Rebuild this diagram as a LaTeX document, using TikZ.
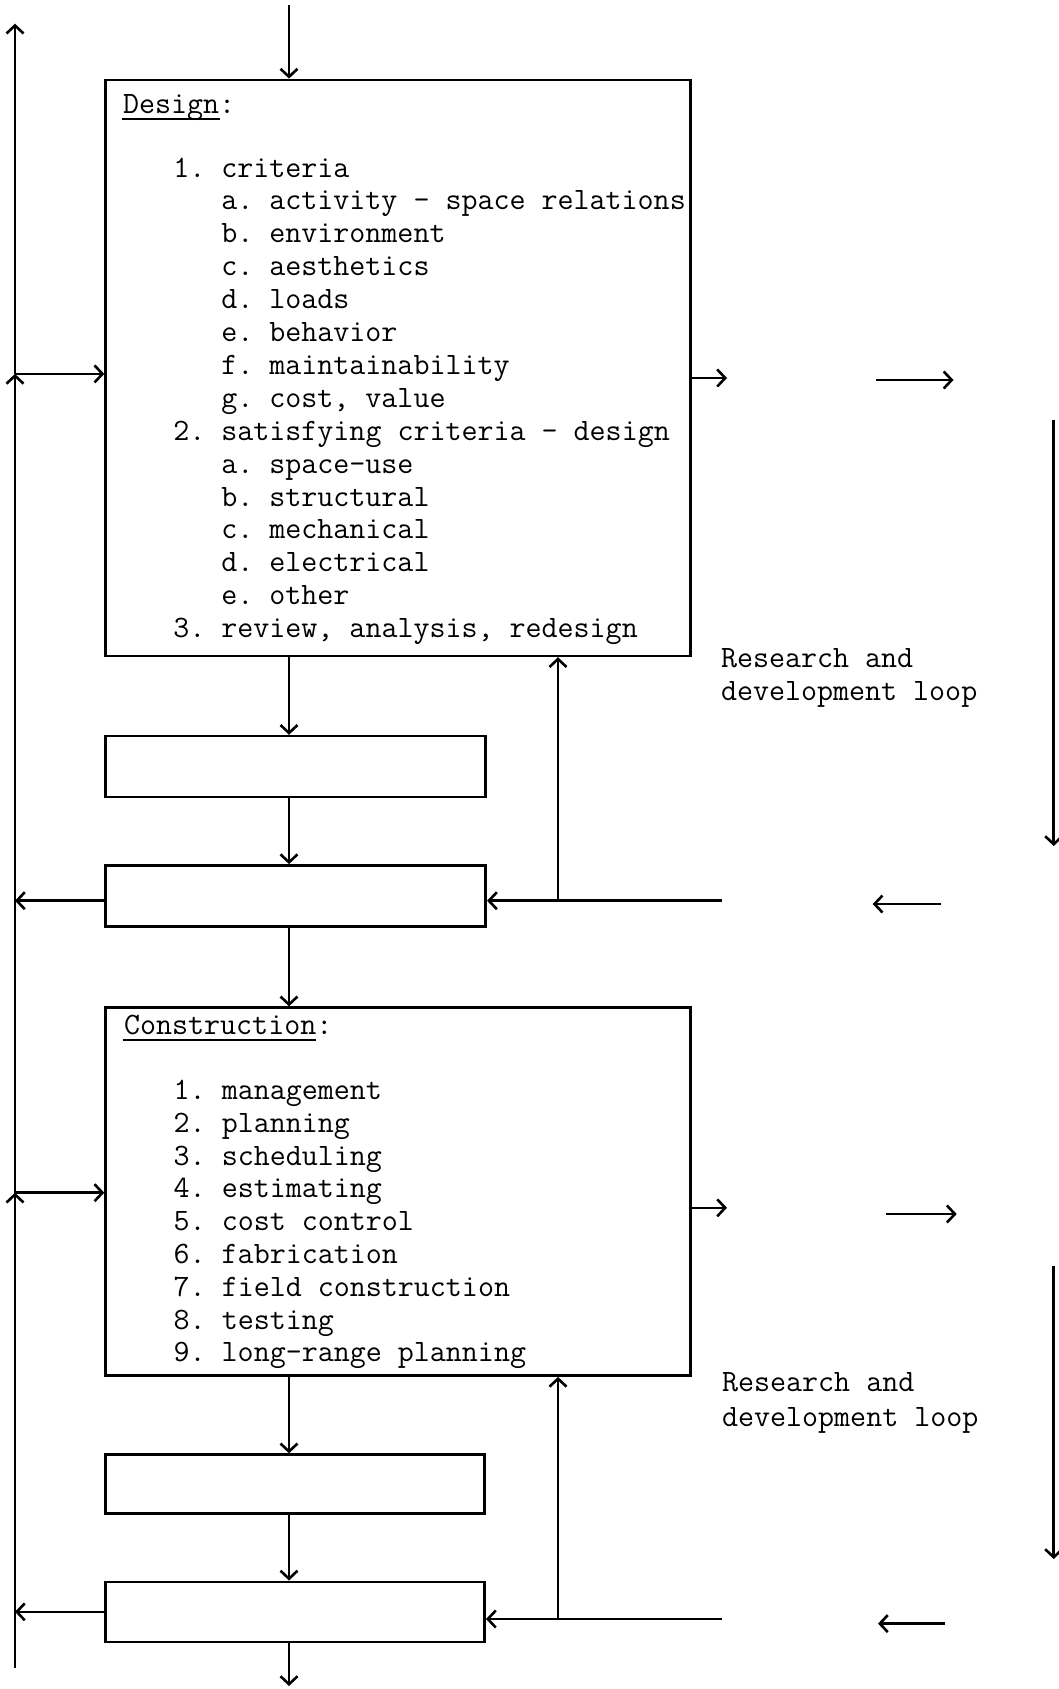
\documentclass[tikz,border=0pt]{standalone}
\usepackage{fontspec}
\usetikzlibrary{arrows.meta}
\begin{document}
\frenchspacing
\begin{tikzpicture}[x=1pt,y=-1pt, line width=2.6pt,
  >={Straight Barb[length=8pt,width=17pt,line width=2.6pt]},
  txt/.style={font=\ttfamily\fontsize{31.1}{32.9}\selectfont\frenchspacing, inner sep=0pt, anchor=base west},
  box/.style={draw, rectangle, inner sep=0pt, line width=2.6pt},
  conn/.style={->}]
\useasboundingbox (0,0) rectangle (1058,1689);

% boxes
\node[box, minimum width=585pt, minimum height=576pt] (design) at (398.1,367.9) {};
\node[box, minimum width=380pt, minimum height=61pt] (b2) at (295.75,766.6) {};
\node[box, minimum width=380pt, minimum height=61pt] (b3) at (295.75,895.9) {};
\node[box, minimum width=585pt, minimum height=368pt] (cons) at (398.1,1191.6) {};
\node[box, minimum width=379pt, minimum height=59pt] (b4) at (295.2,1484.1) {};
\node[box, minimum width=379pt, minimum height=60pt] (b5) at (295.2,1611.8) {};

% design text
\node[txt] (dtitle) at (121.7,113) {Design:};
\draw[line width=1.4pt] (121.7,119) -- (220,119);
\foreach \xx/\lbl [count=\i] in {
  172/{1. criteria},
  220/{a. activity - space relations},
  220/{b. environment},
  220/{c. aesthetics},
  220/{d. loads},
  220/{e. behavior},
  220/{f. maintainability},
  220/{g. cost, value},
  172/{2. satisfying criteria - design},
  220/{a. space-use},
  220/{b. structural},
  220/{c. mechanical},
  220/{d. electrical},
  220/{e. other},
  172/{3. review, analysis, redesign}}
  \node[txt] (d\i) at (\xx,{177+(\i-1)*32.9}) {\lbl};

% construction text
\node[txt] (ctitle) at (122.8,1034) {Construction:};
\draw[line width=1.4pt] (122.8,1040) -- (316,1040);
\foreach \lbl [count=\i] in {
  {1. management},
  {2. planning},
  {3. scheduling},
  {4. estimating},
  {5. cost control},
  {6. fabrication},
  {7. field construction},
  {8. testing},
  {9. long-range planning}}
  \node[txt] (c\i) at (172.4,{1099.5+(\i-1)*32.8}) {\lbl};

% research labels
\node[txt] (r1a) at (719.7,667) {Research and};
\node[txt] (r1b) at (719.7,700.5) {development loop};
\node[txt] (r2a) at (720.8,1391.5) {Research and};
\node[txt] (r2b) at (720.8,1426) {development loop};

% left feedback line
\coordinate (ltop) at (15,23.7);
\coordinate (jl1) at (15,373.9);
\coordinate (jl3) at (15,900.7);
\coordinate (jl2) at (15,1192.7);
\coordinate (jl4) at (15,1611.8);
\coordinate (lbot) at (15,1668);
\draw[conn] (lbot) -- (jl2);
\draw[conn] (jl2) -- (jl1);
\draw[conn] (jl1) -- (ltop);
\draw[conn] (jl1) -- (design.west |- jl1);
\draw[conn] (jl2) -- (cons.west |- jl2);
\draw[conn] (b3.west |- jl3) -- (jl3);
\draw[conn] (b5.west |- jl4) -- (jl4);

% main flow
\coordinate (topin) at (289,5.4);
\coordinate (botout) at (289,1686);
\draw[conn] (topin) -- (topin |- design.north);
\draw[conn] (topin |- design.south) -- (topin |- b2.north);
\draw[conn] (topin |- b2.south) -- (topin |- b3.north);
\draw[conn] (topin |- b3.south) -- (topin |- cons.north);
\draw[conn] (topin |- cons.south) -- (topin |- b4.north);
\draw[conn] (topin |- b4.south) -- (topin |- b5.north);
\draw[conn] (topin |- b5.south) -- (botout);

% design outputs
\coordinate (dout) at (727,378);
\draw[conn] (design.east |- dout) -- (dout);
\coordinate (fa1s) at (876,380);
\coordinate (fa1e) at (953.5,380);
\draw[conn] (fa1s) -- (fa1e);
\coordinate (rv1s) at (1053.7,420);
\coordinate (rv1e) at (1053.7,846);
\draw[conn] (rv1s) -- (rv1e);

% design return loop
\coordinate (ret1) at (722,900.7);
\coordinate (up1) at (558,900.7);
\draw[conn] (ret1) -- (b3.east |- ret1);
\draw[conn] (up1) -- (up1 |- design.south);
\coordinate (fl1s) at (940.6,904);
\coordinate (fl1e) at (872.7,904);
\draw[conn] (fl1s) -- (fl1e);

% construction outputs
\coordinate (cout) at (727,1207.8);
\draw[conn] (cons.east |- cout) -- (cout);
\coordinate (fa2s) at (885.6,1214);
\coordinate (fa2e) at (956.7,1214);
\draw[conn] (fa2s) -- (fa2e);
\coordinate (rv2s) at (1053.7,1266);
\coordinate (rv2e) at (1053.7,1559);
\draw[conn] (rv2s) -- (rv2e);

% construction return loop
\coordinate (ret2) at (722,1619);
\coordinate (up2) at (558,1619);
\draw[conn] (ret2) -- (b5.east |- ret2);
\draw[conn] (up2) -- (up2 |- cons.south);
\coordinate (fl2s) at (945,1623.6);
\coordinate (fl2e) at (878,1623.6);
\draw[conn] (fl2s) -- (fl2e);
\end{tikzpicture}
\end{document}
